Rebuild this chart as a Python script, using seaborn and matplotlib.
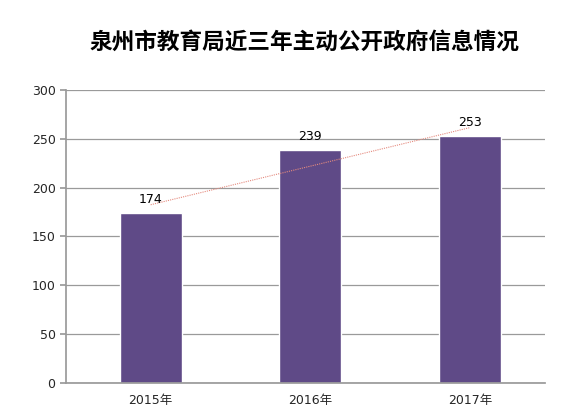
import numpy as np
import pandas as pd
import seaborn as sns
import matplotlib.pyplot as plt

# données
years = ['2015年', '2016年', '2017年']
counts = [174, 239, 253]
title = '泉州市教育局近三年主动公开政府信息情况'

sns.set_theme(style='white')
plt.rcParams['font.family'] = ['DejaVu Sans', 'Noto Sans CJK SC']

df = pd.DataFrame({'year': years, 'count': counts})

fig = plt.figure(figsize=(5.75, 4.12), dpi=100)
ax = fig.add_axes([0.1148, 0.0704, 0.8332, 0.7112])

sns.barplot(data=df, x='year', y='count', color='#5f4a87', saturation=1,
            width=0.39, ax=ax)

# courbe de tendance linéaire
xs = np.arange(len(counts))
slope, intercept = np.polyfit(xs, counts, 1)
ax.plot(xs, slope * xs + intercept, color='#e58a7e', lw=0.8, ls=(0, (1, 1)))

# étiquettes de valeurs
for i, v in enumerate(counts):
    ax.text(i, v + 7, str(v), ha='center', va='bottom', fontsize=9, color='black')

ax.set_ylim(0, 300)
ax.set_xlim(-0.53, len(counts) - 0.53)
ax.set_yticks(range(0, 301, 50))
ax.yaxis.grid(True, color='#9a9a9a', lw=0.9)
ax.set_axisbelow(True)
ax.set_xlabel('')
ax.set_ylabel('')

for s in ['top', 'right']:
    ax.spines[s].set_visible(False)
ax.spines['left'].set_color('#9a9a9a')
ax.spines['bottom'].set_color('#9a9a9a')

ax.set_xticks(np.arange(-0.53, len(counts)), minor=True)
ax.tick_params(axis='x', which='major', length=0, labelsize=9, pad=8)
ax.tick_params(axis='x', which='minor', length=4, color='#9a9a9a', direction='out')
ax.tick_params(axis='y', length=4, color='#9a9a9a', labelsize=9, left=True)

fig.text(0.53, 0.898, title, ha='center', va='center', fontsize=16.3,
         fontweight='bold', color='black', family=['Noto Sans CJK SC'])

fig.savefig('out.png', dpi=100)
